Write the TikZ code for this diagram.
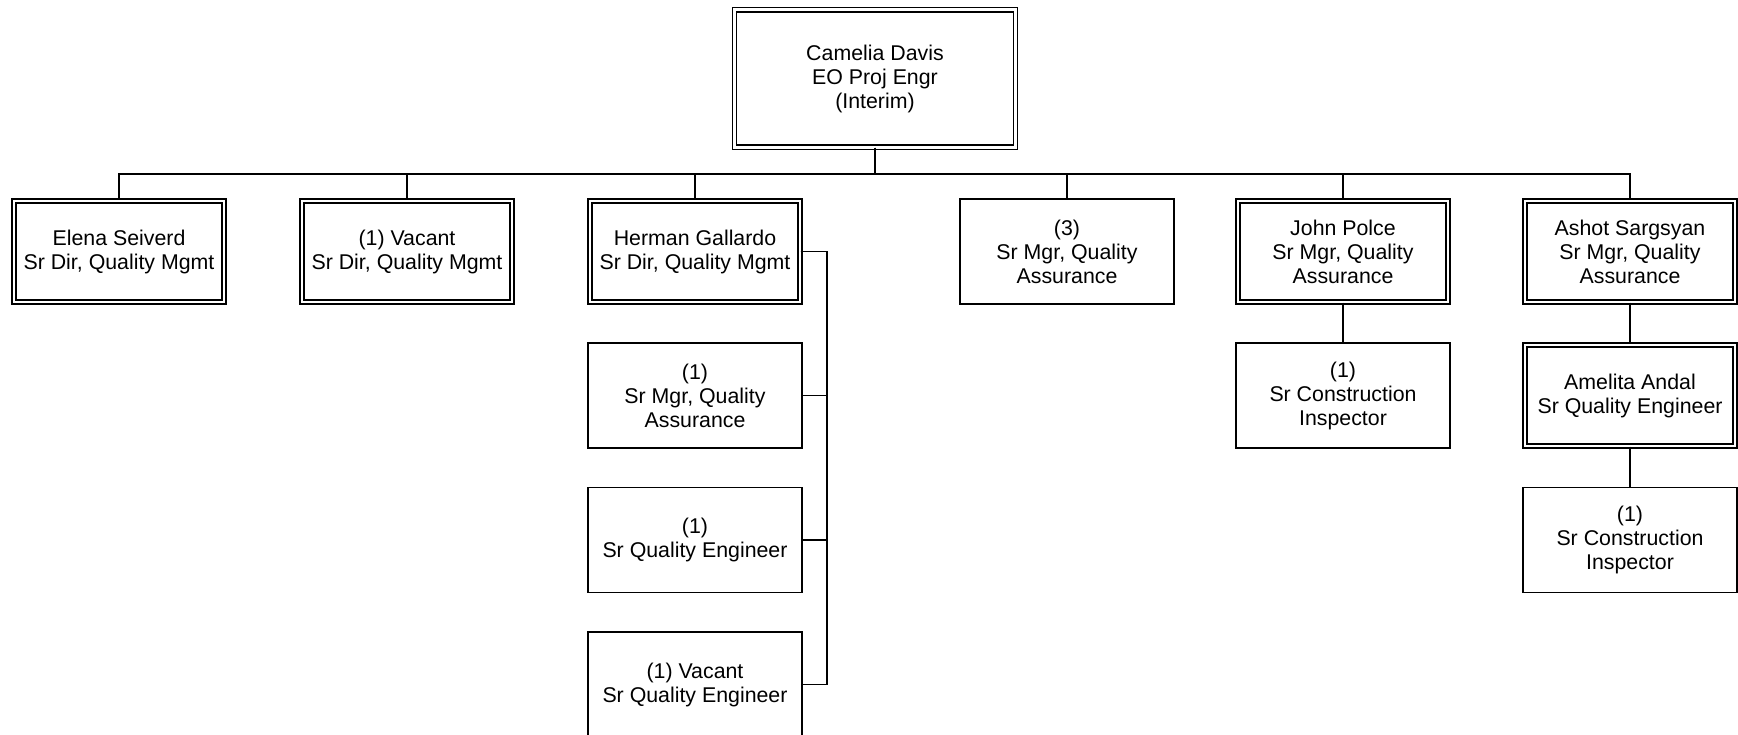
\documentclass[tikz,border=0pt]{standalone}
\usepackage{fontspec}
\setmainfont{Liberation Sans}
\usetikzlibrary{positioning}

\begin{document}
\begin{tikzpicture}[x=0.75pt, y=-0.75pt,
  every node/.style={font=\fontsize{16}{18}\selectfont},
  posbox/.style={draw, line width=1.1pt, align=center, inner sep=2pt,
    minimum width=160.8pt, minimum height=79pt},
  headbox/.style={posbox, double, double distance=2pt,
    minimum width=157.4pt, minimum height=75.6pt},
  link/.style={draw, line width=1pt}]
\useasboundingbox (0,0) rectangle (1738,735);
% top of the chart
\node[headbox, minimum width=211pt, minimum height=103pt] (davis) at (875,78.5)
  {Camelia Davis\\EO Proj Engr\\(Interim)};
\coordinate (bus) at (0,174);
\coordinate (hbus) at (827,0);
% direct reports
\node[headbox] (elena) at (119,251.5) {Elena Seiverd\\Sr Dir, Quality Mgmt};
\node[headbox] (vacant) at (407,251.5) {(1) Vacant\\Sr Dir, Quality Mgmt};
\node[headbox] (herman) at (695,251.5) {Herman Gallardo\\Sr Dir, Quality Mgmt};
\node[posbox] (mgrqa) at (1067,251.5) {(3)\\Sr Mgr, Quality\\Assurance};
\node[headbox] (john) at (1343,251.5) {John Polce\\Sr Mgr, Quality\\Assurance};
\node[headbox] (ashot) at (1630,251.5) {Ashot Sargsyan\\Sr Mgr, Quality\\Assurance};
% under Herman Gallardo
\node[posbox] (hmgr) at (695,395.5) {(1)\\Sr Mgr, Quality\\Assurance};
\node[posbox] (hsqe) at (695,540) {(1)\\Sr Quality Engineer};
\node[posbox] (hvac) at (695,684.5) {(1) Vacant\\Sr Quality Engineer};
% under John Polce and Ashot Sargsyan
\node[posbox] (jinsp) at (1343,395.5) {(1)\\Sr Construction\\Inspector};
\node[headbox] (amelita) at (1630,395.5) {Amelita Andal\\Sr Quality Engineer};
\node[posbox] (ainsp) at (1630,540) {(1)\\Sr Construction\\Inspector};
% connectors
\foreach \n in {elena,vacant,herman,mgrqa,john,ashot}
  \draw[link] (davis.south) -- (davis.south |- bus) -| (\n.north);
\foreach \n in {hmgr,hsqe,hvac}
  \draw[link] (herman.east) -- (herman.east -| hbus) |- (\n.east);
\draw[link] (john.south) -- (jinsp.north);
\draw[link] (ashot.south) -- (amelita.north);
\draw[link] (amelita.south) -- (ainsp.north);
\end{tikzpicture}
\end{document}
